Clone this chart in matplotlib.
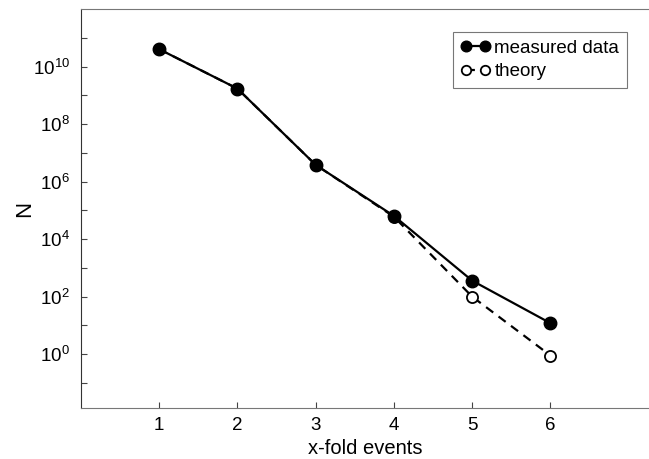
import matplotlib.pyplot as plt
from matplotlib.ticker import FixedLocator, NullFormatter

events = [1, 2, 3, 4, 5, 6]
measured = [4.0e10, 1.7e9, 3.8e6, 6.4e4, 3.6e2, 12]
theory = [4.0e10, 1.7e9, 3.8e6, 6.0e4, 1.0e2, 0.9]

plt.rcParams["font.family"] = ["Liberation Sans", "DejaVu Sans"]

fig = plt.figure(figsize=(6.49, 4.59), dpi=100)
ax = fig.add_axes([0.1248, 0.1105, 0.8752, 0.8699])

ax.plot(events, theory, "k--", lw=1.6, marker="o", mfc="white", mec="k",
        mew=1.3, ms=8, dashes=(4, 3), label="theory", zorder=2)
ax.plot(events, measured, "k-", lw=1.6, marker="o", mfc="k", mec="k",
        ms=9, label="measured data", zorder=3)

ax.set_yscale("log")
ax.set_ylim(10 ** -1.88, 1e12)
ax.set_xlim(0, 7.26)
ax.set_xticks(events)
ax.yaxis.set_major_locator(FixedLocator([10.0 ** k for k in range(0, 11, 2)]))
ax.yaxis.set_minor_locator(FixedLocator([10.0 ** k for k in range(-1, 12, 2)]))
ax.yaxis.set_minor_formatter(NullFormatter())
ax.tick_params(which="both", direction="in", labelsize=13.5, length=4, width=0.8,
               colors="#444444", labelcolor="black")
ax.tick_params(axis="x", pad=6)
ax.tick_params(axis="y", pad=8)

ax.spines["right"].set_visible(False)
ax.spines["top"].set_color("#777777")
ax.spines["bottom"].set_color("#777777")
ax.spines["left"].set_color("#333333")

ax.set_xlabel("x-fold events", fontsize=14.5, labelpad=4)
ax.set_ylabel("N", fontsize=16, labelpad=-2)

handles, labels = ax.get_legend_handles_labels()
leg = ax.legend(handles[::-1], labels[::-1], loc="upper left",
                bbox_to_anchor=(0.655, 0.942), fontsize=13.5, frameon=True,
                fancybox=False, edgecolor="#555555", handlelength=1.6,
                handletextpad=0.2, borderpad=0.4, labelspacing=0.35,
                borderaxespad=0, markerscale=0.85, numpoints=2)
leg.get_frame().set_linewidth(0.8)

fig.savefig("out.png", dpi=100)
